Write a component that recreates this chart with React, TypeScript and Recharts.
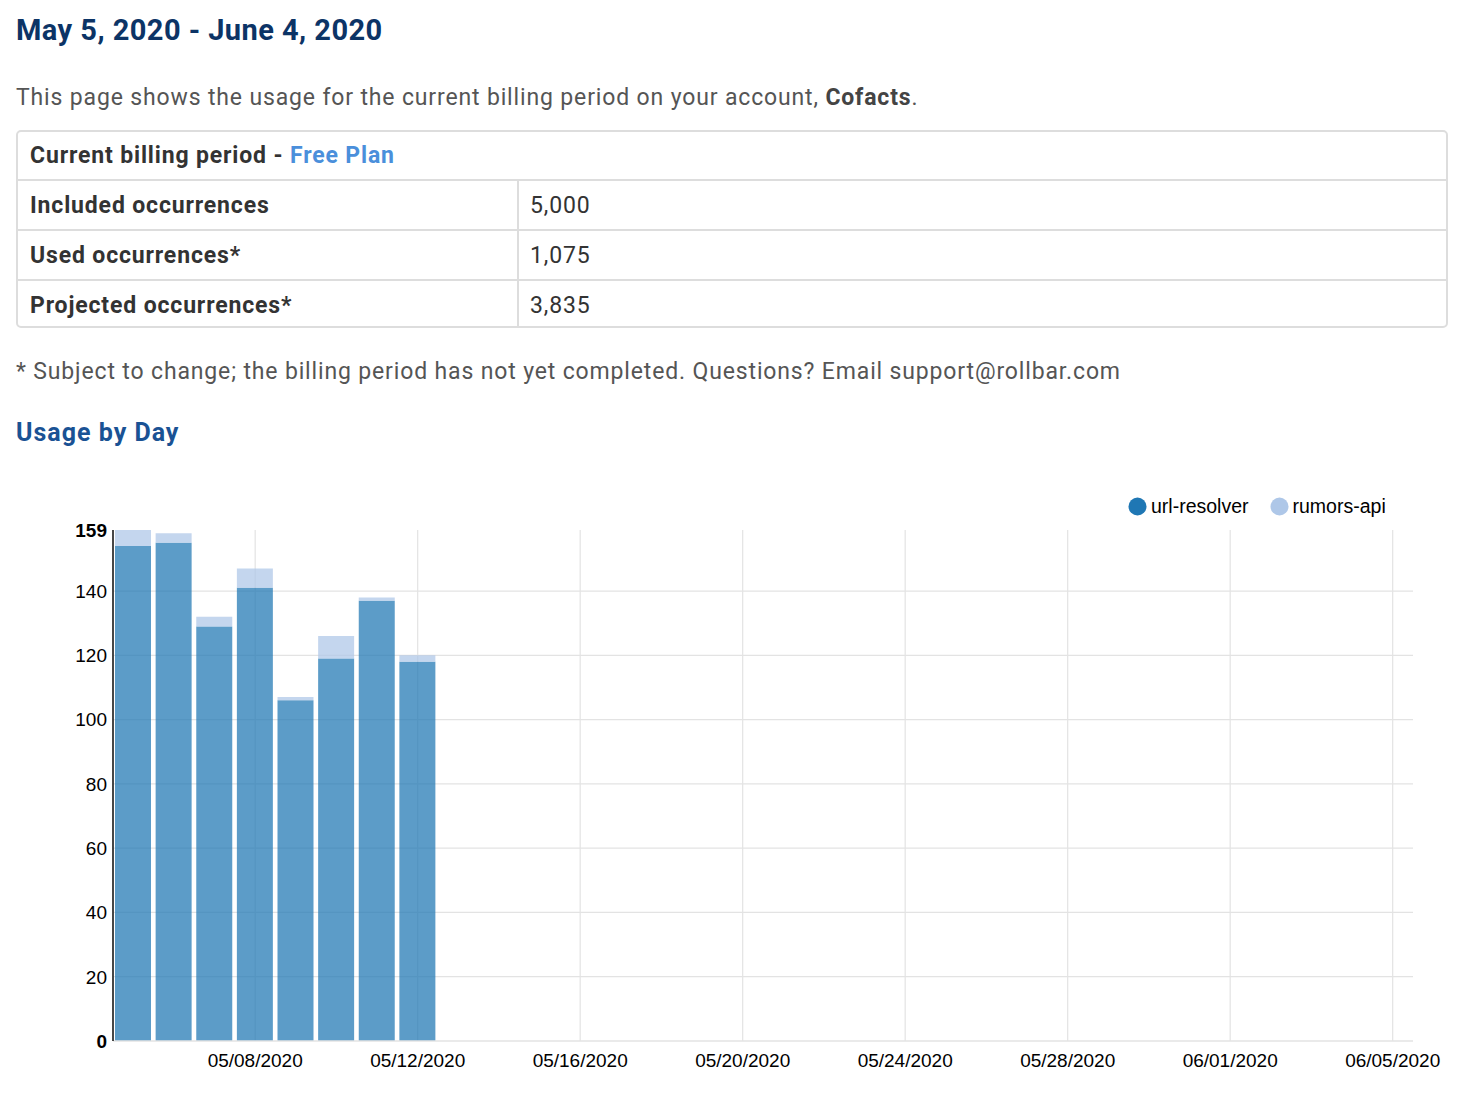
import { BarChart, Bar, XAxis, YAxis, CartesianGrid, Legend } from 'recharts';

// usage per day
const days = ['05/05/2020', '05/06/2020', '05/07/2020', '05/08/2020', '05/09/2020', '05/10/2020', '05/11/2020', '05/12/2020'];
const urlResolver = [154, 155, 129, 141, 106, 119, 137, 118];
const rumorsApi = [5, 3, 3, 6, 1, 7, 1, 2];

const xTickLabels = ['05/08/2020', '05/12/2020', '05/16/2020', '05/20/2020', '05/24/2020', '05/28/2020', '06/01/2020', '06/05/2020'];
const yTicks = [0, 20, 40, 60, 80, 100, 120, 140, 159];
const periodStart = '05/05/2020';
const periodEnd = '06/05/2020';

const seriesNames = ['url-resolver', 'rumors-api'];
const seriesColors = ['#1f77b4', '#aec7e8'];

const tableLabels = ['Included occurrences', 'Used occurrences*', 'Projected occurrences*'];
const tableValues = ['5,000', '1,075', '3,835'];

const DAY = 86400000;
const toTime = (s: string) => {
  const [m, d, y] = s.split('/').map(Number);
  return Date.UTC(y, m - 1, d);
};

const xTicks = xTickLabels.map(toTime);
const labelByTime: Record<number, string> = {};
xTickLabels.forEach((l) => { labelByTime[toTime(l)] = l; });

const data = days.map((d, i) => ({
  time: toTime(d),
  url: urlResolver[i],
  rumors: rumorsApi[i],
}));

const chartFont = '"Liberation Sans", Arial, sans-serif';
const pageFont = 'Roboto, "Noto Sans", sans-serif';
const gridColor = '#e3e3e3';
const track = '0.85px';

const YTick = ({ x, y, payload }: any) => {
  const edge = payload.value === yTicks[0] || payload.value === yTicks[yTicks.length - 1];
  return (
    <text x={x} y={y} dy="0.36em" textAnchor="end" fontSize={19} fontFamily={chartFont}
      fontWeight={edge ? 700 : 400} fill="#000">
      {payload.value}
    </text>
  );
};

const ChartLegend = () => (
  <div style={{ display: 'flex', fontFamily: chartFont, fontSize: 19.5, color: '#000' }}>
    {seriesNames.map((n, i) => (
      <div key={n} style={{ display: 'flex', alignItems: 'center', marginRight: 21 }}>
        <svg width={19} height={19} style={{ marginRight: 4 }}>
          <circle cx={9.5} cy={9.5} r={9} fill={seriesColors[i]} />
        </svg>
        <span>{n}</span>
      </div>
    ))}
  </div>
);

export default function App() {
  const cell = { position: 'absolute' as const, fontSize: 23, lineHeight: '48px', letterSpacing: track };
  return (
    <div style={{ position: 'absolute', left: 0, top: 0, width: 1472, height: 1094, fontFamily: pageFont, background: '#fff' }}>
      <div style={{ position: 'absolute', left: 16, top: 13, fontSize: 29, fontWeight: 700, color: '#0c3466', letterSpacing: '0.45px' }}>
        May 5, 2020 - June 4, 2020
      </div>
      <div style={{ position: 'absolute', left: 16, top: 84, fontSize: 23, color: '#555', letterSpacing: track }}>
        This page shows the usage for the current billing period on your account, <b style={{ color: '#444' }}>Cofacts</b>.
      </div>

      {/* billing table */}
      <div style={{ position: 'absolute', left: 16, top: 130, width: 1428, height: 194, border: '2px solid #ddd', borderRadius: 5 }}>
        <div style={{ ...cell, left: 12, top: 0, fontWeight: 700, color: '#333' }}>
          Current billing period - <span style={{ color: '#4a8fdb' }}>Free Plan</span>
        </div>
        {tableLabels.map((l, i) => (
          <div key={l}>
            <div style={{ position: 'absolute', left: 0, right: 0, top: 47 + i * 50, height: 2, background: '#ddd' }} />
            <div style={{ ...cell, left: 12, top: 50 + i * 50, fontWeight: 700, color: '#333' }}>{l}</div>
            <div style={{ ...cell, left: 512, top: 50 + i * 50, color: '#333' }}>{tableValues[i]}</div>
          </div>
        ))}
        <div style={{ position: 'absolute', left: 499, top: 47, bottom: 0, width: 2, background: '#ddd' }} />
      </div>

      <div style={{ position: 'absolute', left: 16, top: 358, fontSize: 23, color: '#555', letterSpacing: track }}>
        * Subject to change; the billing period has not yet completed. Questions? Email support@rollbar.com
      </div>
      <div style={{ position: 'absolute', left: 16, top: 418, fontSize: 25, fontWeight: 700, color: '#1a5294', letterSpacing: '1px' }}>
        Usage by Day
      </div>

      <div style={{ position: 'absolute', left: 0, top: 470 }}>
        <BarChart width={1472} height={624} data={data} margin={{ top: 60, right: 59, bottom: 0, left: 0 }}>
          <CartesianGrid stroke={gridColor} strokeWidth={1.2}
            horizontalValues={yTicks.slice(1, -1)} verticalValues={xTicks} />
          <XAxis
            dataKey="time"
            type="number"
            scale="linear"
            domain={[toTime(periodStart) - DAY / 2, toTime(periodEnd) + DAY / 2]}
            ticks={xTicks}
            interval={0}
            tickFormatter={(t: number) => labelByTime[t]}
            tick={{ fontSize: 19, fill: '#000', fontFamily: chartFont }}
            tickLine={false}
            tickMargin={7}
            axisLine={{ stroke: gridColor, strokeWidth: 1.5 }}
            height={53}
          />
          <YAxis
            type="number"
            domain={[0, 159]}
            ticks={yTicks}
            interval={0}
            tick={<YTick />}
            tickLine={false}
            tickMargin={0}
            axisLine={{ stroke: '#333', strokeWidth: 1.8 }}
            width={113}
          />
          <Legend
            content={<ChartLegend />}
            layout="horizontal"
            verticalAlign="middle"
            align="center"
            wrapperStyle={{ top: 25, left: 1128, width: 330 }}
          />
          <Bar dataKey="url" name={seriesNames[0]} stackId="a" fill={seriesColors[0]} fillOpacity={0.73}
            barSize={36} isAnimationActive={false} />
          <Bar dataKey="rumors" name={seriesNames[1]} stackId="a" fill={seriesColors[1]} fillOpacity={0.73}
            barSize={36} isAnimationActive={false} />
        </BarChart>
      </div>
    </div>
  );
}
